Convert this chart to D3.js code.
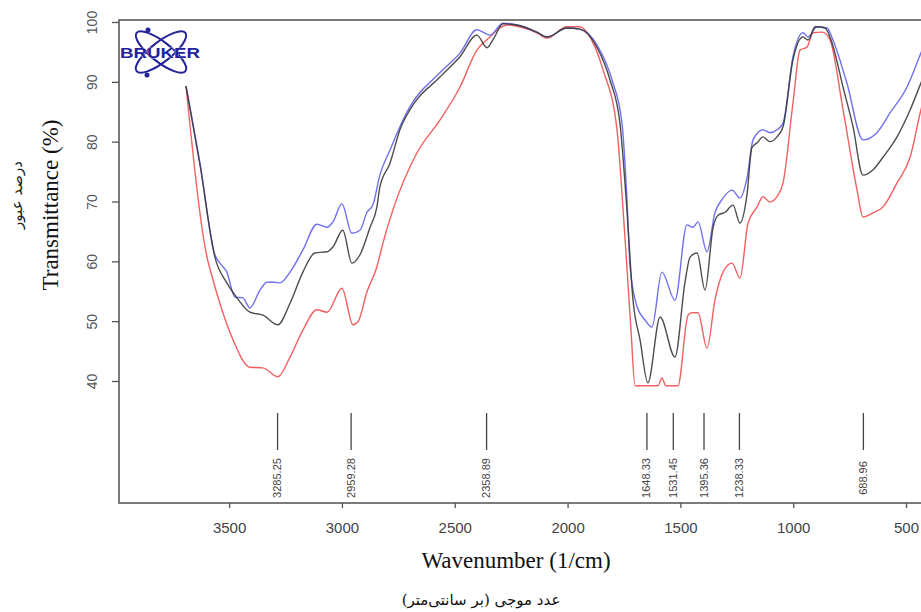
<!DOCTYPE html>
<html><head><meta charset="utf-8">
<script src="https://cdn.jsdelivr.net/npm/d3@7"></script>
<style>body{margin:0;background:#fff}svg{display:block}</style>
</head><body><svg id="c" width="921" height="612"></svg>
<script>
// ---- data ----
const xTicks = [3500, 3000, 2500, 2000, 1500, 1000, 500];
const yTicks = [40, 50, 60, 70, 80, 90, 100];
const peakWn = [3285.25, 2959.28, 2358.89, 1648.33, 1531.45, 1395.36, 1238.33, 688.96];
const peakLabels = ["3285.25", "2959.28", "2358.89", "1648.33", "1531.45", "1395.36", "1238.33", "688.96"];

const wnBlack = [3691,3629,3563,3510,3465,3408,3350,3284,3230,3173,3120,3066,3040,2996,2956,2920,2876,2845,2832,2787,2743,2699,2566,2477,2402,2357,2331,2286,2224,2136,2091,2003,1945,1870,1812,1768,1737,1710,1679,1644,1590,1524,1480,1457,1426,1391,1355,1333,1302,1267,1236,1205,1183,1160,1134,1103,1072,1045,1001,957,934,903,859,828,779,735,691,646,602,540,482,434,400];
const tBlack  = [89.3,76.1,60.7,56.4,53.9,51.5,51.0,49.4,53.0,58.2,61.4,61.6,62.4,65.2,59.7,61.1,65.6,69.1,72.4,76.4,82.0,85.3,90.8,94.2,97.8,95.7,97.0,99.7,99.5,98.3,97.5,99.0,98.8,95.8,90.3,83.1,68.6,53.5,46.9,39.7,50.7,44.0,56.4,60.7,61.4,55.2,65.7,67.7,68.2,69.4,66.4,71.1,79.0,79.8,80.8,80.0,80.8,82.5,93.7,97.5,97.0,99.2,99.0,96.5,89.1,82.5,74.4,75.3,77.4,80.8,85.3,89.8,93.0];

const wnBlue = [3691,3629,3563,3541,3510,3474,3439,3408,3363,3332,3297,3275,3230,3173,3111,3066,3040,3000,2956,2920,2889,2863,2832,2787,2743,2699,2566,2477,2402,2375,2344,2286,2224,2136,2091,2003,1945,1870,1803,1759,1737,1723,1692,1657,1626,1582,1524,1471,1444,1422,1382,1347,1316,1271,1236,1205,1178,1134,1103,1072,1045,1001,957,934,895,850,824,762,691,629,571,496,434,400];
const tBlue  = [89.3,76.4,61.1,59.7,58.2,54.0,53.9,52.2,55.2,56.5,56.5,56.4,58.2,61.9,66.2,65.7,66.6,69.6,64.7,65.2,68.2,69.4,74.4,78.6,82.5,85.8,91.5,94.8,98.7,98.3,97.8,99.8,99.5,98.3,97.5,99.0,98.8,96.2,90.3,83.1,70.5,59.1,52.4,50.2,49.0,58.2,53.5,66.1,65.7,66.6,61.6,68.1,70.3,71.9,70.6,73.9,80.3,82.0,81.5,82.0,83.1,94.2,98.2,97.5,99.2,99.0,97.0,89.8,80.3,81.5,84.8,89.1,94.8,98.0];

const wnRed = [3691,3598,3576,3532,3483,3408,3350,3284,3230,3173,3111,3066,3000,2951,2929,2889,2845,2818,2774,2668,2566,2477,2402,2344,2300,2269,2224,2136,2091,2003,1945,1901,1843,1781,1754,1737,1719,1701,1599,1582,1564,1511,1466,1449,1422,1382,1347,1311,1271,1236,1200,1160,1134,1103,1072,1045,1001,970,939,912,872,837,779,717,691,646,602,540,482,434,400];
const tRed  = [89.3,60.7,57.5,51.9,46.9,42.3,42.2,40.7,44.0,48.5,51.9,51.5,55.5,49.4,49.9,54.9,59.1,63.1,68.6,78.1,83.6,89.1,95.3,97.5,99.0,99.5,99.3,98.2,97.3,99.2,99.2,97.5,92.0,82.0,68.6,59.1,48.5,39.2,39.2,40.5,39.2,39.2,51.0,51.4,51.4,45.5,53.5,58.2,59.7,57.2,66.4,69.1,70.8,69.9,70.8,73.1,86.5,95.3,95.8,98.2,98.3,97.0,85.3,71.9,67.4,68.1,69.1,73.1,77.4,85.3,90.0];

// ---- chart ----
const svg = d3.select("#c");
svg.append("rect").attr("width", 921).attr("height", 612).attr("fill", "#fff");

const x = d3.scaleLinear().domain([3988, 400]).range([119, 928.6]);
const y = d3.scaleLinear().domain([40, 100]).range([381, 22]);
const plotL = 119, plotT = 20, plotB = 503, plotR = 950;

svg.append("clipPath").attr("id", "clip")
  .append("rect").attr("x", plotL).attr("y", plotT).attr("width", plotR - plotL).attr("height", plotB - plotT);

const line = d3.line().x(d => x(d[0])).y(d => y(d[1])).curve(d3.curveMonotoneX);
const series = [
  {wn: wnRed, t: tRed, color: "#f24f4f"},
  {wn: wnBlue, t: tBlue, color: "#6060ee"},
  {wn: wnBlack, t: tBlack, color: "#3a3a3a"}
];
const gLines = svg.append("g").attr("clip-path", "url(#clip)");
series.forEach(s => {
  gLines.append("path").datum(d3.zip(s.wn, s.t))
    .attr("d", line).attr("fill", "none")
    .attr("stroke", s.color).attr("stroke-width", 1.4)
    .attr("stroke-linejoin", "round").attr("opacity", 0.9);
});

// frame
svg.append("rect").attr("x", plotL).attr("y", plotT).attr("width", plotR - plotL).attr("height", plotB - plotT)
  .attr("fill", "none").attr("stroke", "#5a5a5a").attr("stroke-width", 1.6);

// x axis
const gx = svg.append("g").attr("transform", `translate(0,${plotB})`)
  .call(d3.axisBottom(x).tickValues(xTicks).tickSize(5).tickPadding(14).tickFormat(d3.format("d")));
gx.select(".domain").remove();
gx.selectAll("line").attr("stroke", "#555").attr("stroke-width", 1.3);
gx.selectAll("text").attr("font-family", "'Liberation Sans', Arial, sans-serif").attr("font-size", 15).attr("fill", "#444");

// y axis
const gy = svg.append("g").attr("transform", `translate(${plotL},0)`)
  .call(d3.axisLeft(y).tickValues(yTicks).tickSize(7).tickFormat(d3.format("d")));
gy.select(".domain").remove();
gy.selectAll("line").attr("stroke", "#555").attr("stroke-width", 1.3);
gy.selectAll("text")
  .attr("x", null).attr("dy", null)
  .attr("transform", "translate(-22,0) rotate(-90)")
  .attr("text-anchor", "middle")
  .attr("font-family", "'Liberation Sans', Arial, sans-serif").attr("font-size", 14).attr("fill", "#555");

// peak markers
const gp = svg.append("g");
peakWn.forEach((p, i) => {
  gp.append("line").attr("x1", x(p)).attr("x2", x(p)).attr("y1", 413).attr("y2", 450)
    .attr("stroke", "#444").attr("stroke-width", 1.3);
  gp.append("text").text(peakLabels[i])
    .attr("transform", `translate(${x(p) + 3.5},478) rotate(-90)`)
    .attr("text-anchor", "middle")
    .attr("font-family", "'Liberation Sans', Arial, sans-serif").attr("font-size", 11)
    .attr("fill", "#444");
});

// axis titles
svg.append("text").text("Wavenumber (1/cm)")
  .attr("x", 516).attr("y", 568).attr("text-anchor", "middle")
  .attr("font-family", "'Liberation Serif', 'Times New Roman', serif").attr("font-size", 23).attr("fill", "#111");
svg.append("text").text("عدد موجی (بر سانتی‌متر)")
  .attr("x", 481).attr("y", 605).attr("text-anchor", "middle").attr("direction", "rtl")
  .attr("font-family", "'DejaVu Serif', 'DejaVu Sans', serif").attr("font-size", 15).attr("fill", "#111");
svg.append("text").text("Transmittance (%)")
  .attr("transform", "translate(58,205) rotate(-90)").attr("text-anchor", "middle")
  .attr("font-family", "'Liberation Serif', 'Times New Roman', serif").attr("font-size", 23).attr("fill", "#111");
svg.append("text").text("درصد عبور")
  .attr("transform", "translate(22,195) rotate(-90)").attr("text-anchor", "middle").attr("direction", "rtl")
  .attr("font-family", "'DejaVu Sans', sans-serif").attr("font-size", 15).attr("fill", "#222");

// logo
const logo = svg.append("g");
const lc = "#23239a";
logo.append("ellipse").attr("cx", 0).attr("cy", 0).attr("rx", 31).attr("ry", 10)
  .attr("transform", "translate(161,52) rotate(38)").attr("fill", "none").attr("stroke", lc).attr("stroke-width", 2);
logo.append("ellipse").attr("cx", 0).attr("cy", 0).attr("rx", 31).attr("ry", 10)
  .attr("transform", "translate(161,52) rotate(-38)").attr("fill", "none").attr("stroke", lc).attr("stroke-width", 2);
logo.append("circle").attr("cx", 148).attr("cy", 30).attr("r", 2.5).attr("fill", lc);
logo.append("circle").attr("cx", 147).attr("cy", 75).attr("r", 2.5).attr("fill", lc);
logo.append("text").text("BRUKER")
  .attr("x", 120).attr("y", 57.5).attr("textLength", 80).attr("lengthAdjust", "spacingAndGlyphs")
  .attr("font-family", "'Liberation Sans', Arial, sans-serif").attr("font-weight", "bold").attr("font-size", 15)
  .attr("fill", lc).attr("stroke", "#fff").attr("stroke-width", 0.6).attr("paint-order", "stroke");
</script></body></html>
